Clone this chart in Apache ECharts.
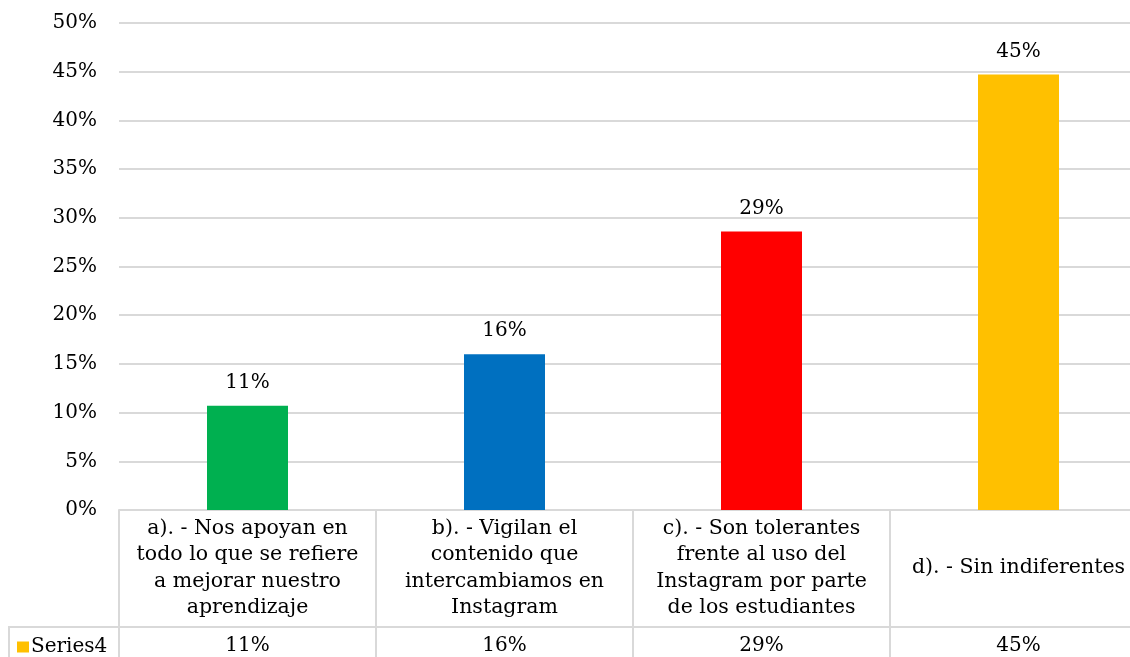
<!DOCTYPE html>
<html>
<head>
<meta charset="utf-8">
<script src="https://cdn.jsdelivr.net/npm/echarts@6/dist/echarts.min.js"></script>
<style>
html,body{margin:0;padding:0;background:#fff;overflow:hidden;width:1130px;height:657px;}
#c{width:1147px;height:657px;}
</style>
</head>
<body>
<div id="c"></div>
<script>
const categories = [
  "a). - Nos apoyan en\ntodo lo que se refiere\na mejorar nuestro\naprendizaje",
  "b). - Vigilan el\ncontenido que\nintercambiamos en\nInstagram",
  "c). - Son tolerantes\nfrente al uso del\nInstagram por parte\nde los estudiantes",
  "d). - Sin indiferentes"
];
const seriesName = "Series4";
const values = [10.7, 16.0, 28.6, 44.7];
const barColors = ["#00B050", "#0070C0", "#FF0000", "#FFC000"];
const yTicks = { min: 0, max: 50, interval: 5 };

const FONT = "'DejaVu Serif', Georgia, serif";
const GRID_COLOR = "#d9d9d9";
const tableValues = values.map(v => Math.round(v) + "%");

const chart = echarts.init(document.getElementById('c'));
chart.setOption({
  animation: false,
  textStyle: { fontFamily: FONT, color: '#000' },
  grid: { left: 119, right: 0, top: 23, bottom: 147 },
  legend: {
    data: [seriesName],
    left: 17, top: 637,
    icon: 'rect', itemWidth: 12, itemHeight: 11, itemGap: 5,
    padding: 0,
    textStyle: { fontFamily: FONT, fontSize: 20, color: '#000', padding: [0, 0, 0, -3] }
  },
  xAxis: [{
    type: 'category',
    data: categories,
    position: 'bottom',
    axisLine: { lineStyle: { color: GRID_COLOR, width: 2 } },
    axisTick: { show: true, length: 150, lineStyle: { color: GRID_COLOR, width: 2 } },
    axisLabel: {
      interval: 0, margin: 58, verticalAlign: 'middle', align: 'center',
      fontFamily: FONT, fontSize: 20.5, lineHeight: 26.5, color: '#000'
    }
  }, {
    type: 'category',
    data: tableValues,
    position: 'bottom',
    offset: 117,
    axisLine: { show: true, lineStyle: { color: GRID_COLOR, width: 2 } },
    axisTick: { show: false },
    axisLabel: {
      interval: 0, margin: 19, verticalAlign: 'middle',
      fontFamily: FONT, fontSize: 20, color: '#000'
    }
  }],
  yAxis: {
    type: 'value',
    min: yTicks.min, max: yTicks.max, interval: yTicks.interval,
    axisLine: { show: false },
    axisTick: { show: false },
    splitLine: { lineStyle: { color: GRID_COLOR, width: 2 } },
    axisLabel: {
      formatter: '{value}%', margin: 22,
      fontFamily: FONT, fontSize: 20, color: '#000'
    }
  },
  graphic: [
    { type: 'line', shape: { x1: 8, y1: 627, x2: 120, y2: 627 }, style: { stroke: GRID_COLOR, lineWidth: 2 } },
    { type: 'line', shape: { x1: 9, y1: 627, x2: 9, y2: 660 }, style: { stroke: GRID_COLOR, lineWidth: 2 } }
  ],
  series: [{
    name: seriesName,
    type: 'bar',
    xAxisIndex: 0,
    barWidth: 81,
    itemStyle: { color: '#FFC000' },
    data: values.map((v, i) => ({ value: v, itemStyle: { color: barColors[i] } })),
    label: {
      show: true, position: 'top', distance: 13,
      formatter: p => Math.round(p.value) + '%',
      fontFamily: FONT, fontSize: 20, color: '#000'
    }
  }]
});
</script>
</body>
</html>
